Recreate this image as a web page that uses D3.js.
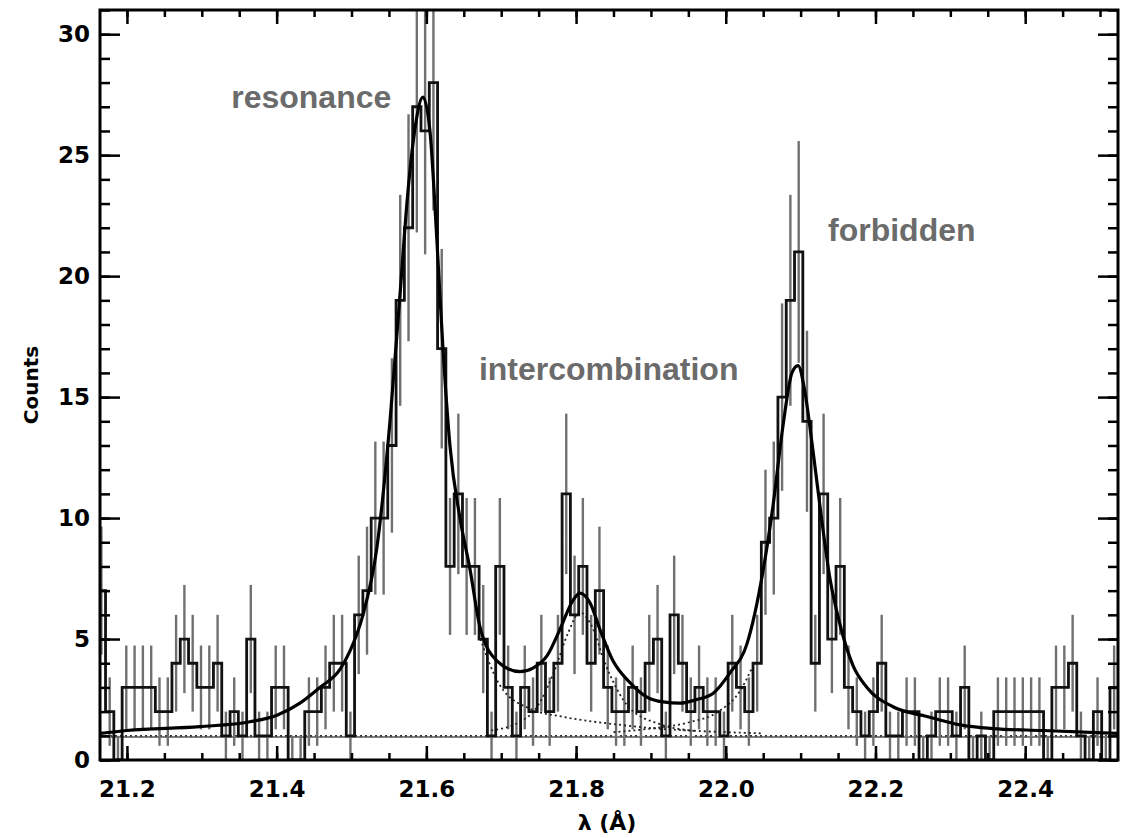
<!DOCTYPE html>
<html>
<head>
<meta charset="utf-8">
<script src="https://cdn.jsdelivr.net/npm/d3@7/dist/d3.min.js"></script>
<style>
  html, body { margin: 0; padding: 0; background: #fff; }
  svg { display: block; }
</style>
</head>
<body>
<svg id="chart" width="1123" height="838"></svg>
<script>
// ---- data ----
const binStart = 21.1603;   // Å, left edge of first bin
const binWidth = 0.01109;   // Å
const counts = [7,2,0,3,3,3,3,2,2,4, 5,4,3,3,4,1,2,1,5,1,
                1,3,3,0,0,2,2,3,4,4, 1,6,7,10,10,13,19,22,27,26,
                28,17,8,11,8,8,5,1,8,3, 1,3,2,4,2,4,11,6,8,4,
                7,3,2,2,3,2,4,5,1,6, 4,2,3,2,2,1,4,3,2,4,
                9,10,15,19,21,14,4,11,5,8, 3,2,1,2,4,1,1,2,2,0,
                1,2,2,1,3,0,1,0,2,2, 2,2,2,2,0,3,3,4,1,0,
                2,0,3,3];

const modelX = [21.164,21.2,21.2975,21.3643,21.4004,21.4311,21.4578,21.4846,21.4979,21.5153,
                21.534,21.5514,21.5647,21.5754,21.5848,21.5955,21.6048,21.6142,21.6222,21.6315,
                21.6449,21.6582,21.6716,21.6943,21.725,21.7424,21.7611,21.7785,21.7959,21.8052,
                21.8186,21.8319,21.8493,21.872,21.8947,21.9161,21.9388,21.9615,21.9829,22.0056,
                22.0283,22.0497,22.0631,22.0764,22.0884,22.0965,22.1058,22.1152,22.1258,22.1392,
                22.1526,22.17,22.1886,22.2234,22.2688,22.3129,22.357,22.4238,22.524];
const modelY = [1.1,1.22,1.38,1.58,1.85,2.35,3.0,3.75,4.5,6.0,
                8.8,14,19.2,23.5,26.1,27.4,26,21.4,17,13,
                10,7.9,5.5,4.1,3.65,3.8,4.3,5.4,6.6,6.9,
                6.5,5.4,4.1,3.2,2.6,2.4,2.35,2.5,2.75,3.6,
                4.8,7.8,10.5,13.8,16,16.3,15.2,13.1,10.5,7.5,
                5.6,3.9,3.0,2.2,1.8,1.45,1.3,1.22,1.1];

const resX   = [21.67,21.70,21.74,21.78,21.82,21.86,21.90,21.95,22.0,22.05];
const resY   = [5.2,3.0,2.1,1.8,1.6,1.45,1.32,1.22,1.15,1.1];
const interX = [21.68,21.72,21.75,21.77,21.79,21.805,21.82,21.84,21.87,21.91,21.96];
const interY = [1.2,1.5,2.3,3.6,5.3,6.1,5.6,3.9,2.2,1.5,1.2];
const forbX  = [21.85,21.9,21.95,21.99,22.02,22.035];
const forbY  = [1.15,1.3,1.55,2.0,2.9,3.8];
const contLevel = 1.0;
const contSolid = 0.95;

const xMajor = [21.2,21.4,21.6,21.8,22.0,22.2,22.4];
const yMajor = [0,5,10,15,20,25,30];
const xDomain = [21.164, 22.524];
const yDomain = [0, 31];

const labels = [
  {text: "resonance", x: 21.3393, y: 26.95},
  {text: "intercombination", x: 21.6702, y: 15.7},
  {text: "forbidden", x: 22.1366, y: 21.45}
];

// ---- layout ----
const L = 100, R = 1118, T = 10, B = 760;
const svg = d3.select("#chart");
svg.append("rect").attr("width",1123).attr("height",838).attr("fill","#fff");

const x = d3.scaleLinear().domain(xDomain).range([L, R]);
const y = d3.scaleLinear().domain(yDomain).range([B, T]);

svg.append("defs").append("clipPath").attr("id","clip")
  .append("rect").attr("x",L).attr("y",T).attr("width",R-L).attr("height",B-T);

const plot = svg.append("g").attr("clip-path","url(#clip)");

// continuum lines
plot.append("line").attr("x1",L).attr("x2",R)
  .attr("y1",y(contSolid)).attr("y2",y(contSolid))
  .attr("stroke","#555").attr("stroke-width",1.3);
plot.append("line").attr("x1",L).attr("x2",R)
  .attr("y1",y(contLevel)).attr("y2",y(contLevel))
  .attr("stroke","#333").attr("stroke-width",1.8).attr("stroke-dasharray","2,3");

// error bars
const bins = counts.map((c,i)=>({x0: binStart + i*binWidth, x1: binStart + (i+1)*binWidth, c}));
plot.selectAll("line.err").data(bins).enter().append("line")
  .attr("class","err")
  .attr("x1", d=>x((d.x0+d.x1)/2)).attr("x2", d=>x((d.x0+d.x1)/2))
  .attr("y1", d=>y(Math.max(0, d.c - Math.sqrt(d.c))))
  .attr("y2", d=>y(d.c === 0 ? 1 : d.c + Math.sqrt(d.c)))
  .attr("stroke","#707070").attr("stroke-width",2.4);

// dotted components
const lineGen = d3.line().x(d=>x(d[0])).y(d=>y(d[1])).curve(d3.curveMonotoneX);
[[resX,resY],[interX,interY],[forbX,forbY]].forEach(([xs,ys])=>{
  plot.append("path").attr("d", lineGen(xs.map((v,i)=>[v, ys[i]])))
    .attr("fill","none").attr("stroke","#222").attr("stroke-width",1.8)
    .attr("stroke-dasharray","2,3");
});

// histogram
const stepPts = bins.map(d=>[d.x0, d.c]);
stepPts.push([bins[bins.length-1].x1, bins[bins.length-1].c]);
const stepGen = d3.line().x(d=>x(d[0])).y(d=>y(d[1])).curve(d3.curveStepAfter);
plot.append("path").attr("d", stepGen(stepPts))
  .attr("fill","none").attr("stroke","#111").attr("stroke-width",2.8);

// model
plot.append("path").attr("d", lineGen(modelX.map((v,i)=>[v, modelY[i]])))
  .attr("fill","none").attr("stroke","#000").attr("stroke-width",3.2);

// ---- axes ----
const tickFont = "'DejaVu Sans', sans-serif";
function styleAxis(g){
  g.select(".domain").remove();
  g.selectAll(".tick line").attr("stroke","#000").attr("stroke-width",2.5);
  g.selectAll("text").attr("font-family",tickFont).attr("font-weight","bold")
    .attr("font-size",23).attr("fill","#000");
}
const xMinor = d3.range(21.2, 22.55, 0.05).filter(v => v <= xDomain[1]);
const yMinor = d3.range(0, 32, 1);

svg.append("g").attr("transform",`translate(0,${B})`)
  .call(d3.axisBottom(x).tickValues(xMinor).tickSize(-7).tickFormat("")).call(styleAxis);
svg.append("g").attr("transform",`translate(0,${B})`)
  .call(d3.axisBottom(x).tickValues(xMajor).tickSize(-14).tickPadding(21).tickFormat(d3.format(".1f")))
  .call(styleAxis);
svg.append("g").attr("transform",`translate(0,${T})`)
  .call(d3.axisTop(x).tickValues(xMinor).tickSize(-7).tickFormat("")).call(styleAxis);
svg.append("g").attr("transform",`translate(0,${T})`)
  .call(d3.axisTop(x).tickValues(xMajor).tickSize(-14).tickFormat("")).call(styleAxis);

svg.append("g").attr("transform",`translate(${L},0)`)
  .call(d3.axisLeft(y).tickValues(yMinor).tickSize(-10).tickFormat("")).call(styleAxis);
svg.append("g").attr("transform",`translate(${L},0)`)
  .call(d3.axisLeft(y).tickValues(yMajor).tickSize(-20).tickPadding(10).tickFormat(d3.format("d")))
  .call(styleAxis);
svg.append("g").attr("transform",`translate(${R},0)`)
  .call(d3.axisRight(y).tickValues(yMinor).tickSize(-10).tickFormat("")).call(styleAxis);
svg.append("g").attr("transform",`translate(${R},0)`)
  .call(d3.axisRight(y).tickValues(yMajor).tickSize(-20).tickFormat("")).call(styleAxis);

// frame
svg.append("rect").attr("x",L).attr("y",T).attr("width",R-L).attr("height",B-T)
  .attr("fill","none").attr("stroke","#000").attr("stroke-width",3);

// axis titles
svg.append("text").attr("x", (L+R)/2 - 2).attr("y", 830)
  .attr("text-anchor","middle").attr("font-family",tickFont).attr("font-weight","bold")
  .attr("font-size",22).text("λ (Å)");
svg.append("text").attr("transform",`translate(38,${(T+B)/2}) rotate(-90)`)
  .attr("text-anchor","middle").attr("font-family",tickFont).attr("font-weight","bold")
  .attr("font-size",20).text("Counts");

// line annotations
svg.selectAll("text.ann").data(labels).enter().append("text")
  .attr("class","ann")
  .attr("x", d=>x(d.x)).attr("y", d=>y(d.y))
  .attr("font-family","'Liberation Sans', Arial, sans-serif").attr("font-weight","bold")
  .attr("font-size",32).attr("fill","#6b6b6b").text(d=>d.text);
</script>
</body>
</html>
